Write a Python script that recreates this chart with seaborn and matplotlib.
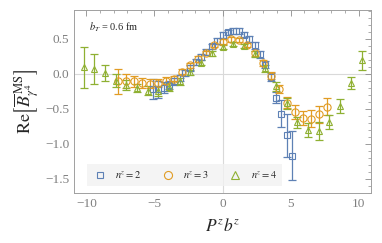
import numpy as np
import pandas as pd
import matplotlib
matplotlib.use("Agg")
import matplotlib.pyplot as plt
from matplotlib.ticker import MultipleLocator
from matplotlib.lines import Line2D
import seaborn as sns

# lattice: P^z b^z = n * 2*pi/32 * z, z = -13..13
Z = np.arange(-13, 14)

Y_N2 = [-0.22, -0.22, -0.20, -0.16, -0.11, -0.06, 0.01, 0.08, 0.17, 0.24, 0.31, 0.39, 0.47,
        0.55, 0.59, 0.61, 0.61, 0.56, 0.50, 0.41, 0.28, 0.13, -0.05, -0.34, -0.57, -0.88, -1.17]
E_N2 = [0.14, 0.12, 0.08, 0.06, 0.05, 0.04, 0.04, 0.04, 0.04, 0.04, 0.04, 0.04, 0.04,
        0.04, 0.04, 0.04, 0.04, 0.04, 0.04, 0.05, 0.05, 0.05, 0.06, 0.08, 0.19, 0.31, 0.35]

Y_N3 = [-0.11, -0.10, -0.11, -0.13, -0.14, -0.13, -0.10, -0.07, 0.03, 0.12, 0.21, 0.30, 0.41,
        0.46, 0.49, 0.48, 0.41, 0.29, 0.15, -0.03, -0.22, -0.41, -0.55, -0.63, -0.64, -0.58, -0.47]
E_N3 = [0.18, 0.10, 0.08, 0.07, 0.07, 0.06, 0.05, 0.04, 0.04, 0.04, 0.04, 0.03, 0.03,
        0.03, 0.03, 0.03, 0.03, 0.04, 0.04, 0.05, 0.06, 0.08, 0.10, 0.10, 0.12, 0.12, 0.12]

Y_N4 = [0.09, 0.07, 0.01, -0.10, -0.16, -0.20, -0.24, -0.25, -0.19, -0.11, 0.02, 0.16, 0.29,
        0.38, 0.42, 0.40, 0.28, 0.08, -0.18, -0.42, -0.69, -0.80, -0.82, -0.69, -0.46, -0.13, 0.19]
E_N4 = [0.29, 0.21, 0.11, 0.09, 0.07, 0.06, 0.06, 0.07, 0.06, 0.05, 0.04, 0.04, 0.03,
        0.03, 0.03, 0.03, 0.04, 0.05, 0.06, 0.08, 0.08, 0.10, 0.13, 0.10, 0.10, 0.09, 0.14]

SERIES = ["2", "3", "4"]
COLORS = {"2": "#5e81b5", "3": "#e19c24", "4": "#8fb032"}
MARKERS = {"2": "s", "3": "o", "4": "^"}
SIZES = {"2": 4.2, "3": 5.2, "4": 4.6}

frames = []
for n, y, e in zip(SERIES, [Y_N2, Y_N3, Y_N4], [E_N2, E_N3, E_N4]):
    frames.append(pd.DataFrame({"x": int(n) * 2 * np.pi / 32 * Z, "y": y, "err": e, "n": n}))
df = pd.concat(frames, ignore_index=True)

sns.set_theme(style="white")
plt.rcParams["font.family"] = ["Liberation Serif", "DejaVu Serif"]
plt.rcParams["mathtext.fontset"] = "stix"

fig = plt.figure(figsize=(3.82, 2.43), dpi=100)
ax = fig.add_axes([0.194, 0.206, 0.777, 0.753])

ax.axhline(0, color="#d9d9d9", lw=0.8, zorder=0)
ax.axvline(0, color="#d9d9d9", lw=0.8, zorder=0)

for n in SERIES:
    d = df[df["n"] == n]
    ax.errorbar(d["x"], d["y"], yerr=d["err"], fmt="none", ecolor=COLORS[n],
                elinewidth=0.9, capsize=2.6, capthick=0.9, zorder=2)
    ax.plot(d["x"], d["y"], ls="none", marker=MARKERS[n], ms=SIZES[n],
            mfc="none", mec=COLORS[n], mew=0.8, zorder=3)

ax.set_xlim(-10.9, 10.9)
ax.set_ylim(-1.70, 0.91)
ax.xaxis.set_major_locator(MultipleLocator(5))
ax.xaxis.set_minor_locator(MultipleLocator(1))
ax.yaxis.set_major_locator(MultipleLocator(0.5))
ax.yaxis.set_minor_locator(MultipleLocator(0.1))
ax.tick_params(which="both", direction="in", top=True, right=True,
               color="#8c8c8c", labelcolor="#7f7f7f", labelsize=9.5)
ax.tick_params(which="major", length=4, width=0.6)
ax.tick_params(which="minor", length=2, width=0.5)
ax.set_xticklabels([f"{t:g}".replace("-", "\u2212") for t in ax.get_xticks()])
ax.set_yticklabels([f"{t:.1f}".replace("-", "\u2212") for t in ax.get_yticks()])
for s in ax.spines.values():
    s.set_color("#a0a0a0")
    s.set_linewidth(0.7)

ax.set_xlabel(r"$P^z b^z$", fontsize=12.5, labelpad=6)
ax.set_ylabel(r"$\mathrm{Re}\left[\overline{B}^{\,\mathrm{MS}}_{\gamma^4}\right]$", fontsize=13, labelpad=2)

ax.text(-9.8, 0.67, r"$b_T$ = 0.6 fm", fontsize=7.5, va="center")

handles = [Line2D([], [], ls="none", marker=MARKERS[n], ms=SIZES[n] + 0.6, mfc="none",
                  mec=COLORS[n], mew=0.8) for n in SERIES]
labels = [rf"$n^z = {n}$" for n in SERIES]
leg = ax.legend(handles, labels, ncol=3, loc="lower left", bbox_to_anchor=(0.044, 0.038),
                frameon=True, fontsize=7.5, handletextpad=0.7, columnspacing=1.8,
                borderpad=0.5, handlelength=1.5, borderaxespad=0)
leg.get_frame().set_facecolor("#f2f2f2")
leg.get_frame().set_edgecolor("none")
leg.get_frame().set_boxstyle("square", pad=0)
leg.set_zorder(1)

fig.savefig("out.png", dpi=100)
